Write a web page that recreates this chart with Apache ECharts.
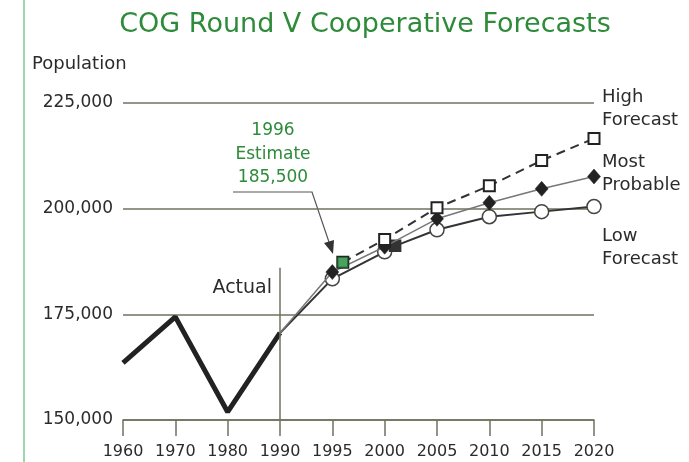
<!DOCTYPE html>
<html><head><meta charset="utf-8">
<script src="https://cdn.jsdelivr.net/npm/echarts@6/dist/echarts.min.js"></script>
<style>html,body{margin:0;padding:0;background:#fff}#c{width:689px;height:462px}</style>
</head><body><div id="c"></div>
<script>
// ---- data ----
const tickYears = [1960, 1970, 1980, 1990, 1995, 2000, 2005, 2010, 2015, 2020];
const tickLabels = ['1960', '1970', '1980', '1990', '1995', '2000', '2005', '2010', '2015', '2020'];
const yTicks = [150000, 175000, 200000, 225000];
const actualYears = [1960, 1970, 1980, 1990];
const actualValues = [163500, 174400, 151900, 170600];
const mostYears = [1990, 1995, 2000, 2005, 2010, 2015, 2020];
const mostValues = [170600, 185000, 191000, 197600, 201400, 204700, 207600];
const lowYears = [1990, 1995, 2000, 2001, 2005, 2010, 2015, 2020];
const lowValues = [170600, 183400, 189800, 191200, 195000, 198100, 199300, 200500];
const highYears = [1996, 2000, 2005, 2010, 2015, 2020];
const highValues = [187300, 192700, 200200, 205400, 211400, 216600];
const estimateYears = [1996];
const estimateValues = [187300];

// piecewise year -> axis position (decades then 5-year steps, as on the original)
function pos(y) { return y <= 1990 ? (y - 1960) / 10 : 3 + (y - 1990) / 5; }
function pairs(xs, ys) { return xs.map((x, i) => [pos(x), ys[i]]); }

const FONT = 'DejaVu Sans';
const TXT = '#2b2b2b';
const GREEN = '#2e8b3a';
const GRID = '#6e735e';

const chart = echarts.init(document.getElementById('c'), null, {renderer: 'canvas'});

const lowData = pairs(lowYears, lowValues).map((p, i) => {
  if (lowYears[i] === 1990) return {value: p, symbol: 'none'};
  if (lowYears[i] === 2001) {
    return {value: p, symbol: 'rect', symbolSize: 11, itemStyle: {color: '#333', borderColor: '#333'}};
  }
  return p;
});
const mostData = pairs(mostYears, mostValues).map((p, i) =>
  mostYears[i] === 1990 ? {value: p, symbol: 'none'} : p);

function txt(x, y, text, size, fill, align) {
  return {type: 'text', x: x, y: y, style: {text: text, fontFamily: FONT, fontSize: size, fill: fill, align: align, verticalAlign: 'middle'}};
}

chart.setOption({
  animation: false,
  backgroundColor: '#fff',
  grid: {left: 123, right: 95, top: 103, bottom: 42},
  xAxis: {
    type: 'value', min: 0, max: tickYears.length - 1, interval: 1,
    axisLine: {show: true, lineStyle: {color: GRID, width: 1.5}},
    axisTick: {show: true, length: 16, lineStyle: {color: GRID, width: 1.5}},
    axisLabel: {
      formatter: v => tickLabels[Math.round(v)] || '',
      fontFamily: FONT, fontSize: 16, color: TXT, margin: 24
    },
    splitLine: {show: false}
  },
  yAxis: {
    type: 'value', min: yTicks[0], max: yTicks[yTicks.length - 1], interval: 25000,
    axisLine: {show: false}, axisTick: {show: false},
    axisLabel: {
      formatter: v => v.toLocaleString('en-US'),
      fontFamily: FONT, fontSize: 17, color: TXT, margin: 10
    },
    splitLine: {show: true, lineStyle: {color: GRID, width: 1.5}}
  },
  series: [
    {
      name: 'Actual', type: 'line', data: pairs(actualYears, actualValues),
      symbol: 'none', lineStyle: {color: '#222', width: 5}, z: 3,
      markLine: {
        silent: true, symbol: 'none', label: {show: false},
        lineStyle: {color: GRID, width: 1.5, type: 'solid'},
        data: [[{coord: [pos(1990), 186000]}, {coord: [pos(1990), 150000]}]]
      }
    },
    {
      name: 'Low Forecast', type: 'line', data: lowData,
      symbol: 'circle', symbolSize: 14,
      itemStyle: {color: '#fff', borderColor: '#444', borderWidth: 1.5},
      lineStyle: {color: '#333', width: 2}, z: 4
    },
    {
      name: 'Most Probable', type: 'line', data: mostData,
      symbol: 'diamond', symbolSize: [13, 15],
      itemStyle: {color: '#222', borderColor: '#222', borderWidth: 0.5},
      lineStyle: {color: '#777', width: 1.5}, z: 5
    },
    {
      name: 'High Forecast', type: 'line', data: pairs(highYears, highValues),
      symbol: 'rect', symbolSize: 11, showSymbol: true,
      itemStyle: {color: '#fff', borderColor: '#222', borderWidth: 2},
      lineStyle: {color: '#333', width: 2, type: [9, 6]}, z: 6
    },
    {
      name: '1996 Estimate', type: 'scatter', data: pairs(estimateYears, estimateValues),
      symbol: 'rect', symbolSize: 10,
      itemStyle: {color: '#1f8a3a', borderColor: '#176e2d', borderWidth: 1}, z: 7
    }
  ],
  graphic: [
    {type: 'line', shape: {x1: 24, y1: 0, x2: 24, y2: 462}, style: {stroke: '#9fd8aa', lineWidth: 2}},
    txt(365, 25, 'COG Round V Cooperative Forecasts', 27, GREEN, 'center'),
    txt(32, 64, 'Population', 18, TXT, 'left'),
    txt(272, 288, 'Actual', 19, TXT, 'right'),
    txt(273, 131, '1996', 17, GREEN, 'center'),
    txt(273, 155, 'Estimate', 17, GREEN, 'center'),
    txt(273, 178, '185,500', 17, GREEN, 'center'),
    {type: 'polyline', shape: {points: [[233, 192], [312, 192], [330, 245]]}, style: {stroke: '#555', lineWidth: 1.2, fill: null}},
    {type: 'polygon', shape: {points: [[333, 254], [334, 240], [324, 243]]}, style: {fill: '#333'}},
    txt(602, 97, 'High', 18, TXT, 'left'),
    txt(602, 120, 'Forecast', 18, TXT, 'left'),
    txt(602, 162, 'Most', 18, TXT, 'left'),
    txt(602, 185, 'Probable', 18, TXT, 'left'),
    txt(602, 236, 'Low', 18, TXT, 'left'),
    txt(602, 259, 'Forecast', 18, TXT, 'left')
  ]
});
</script>
</body></html>
